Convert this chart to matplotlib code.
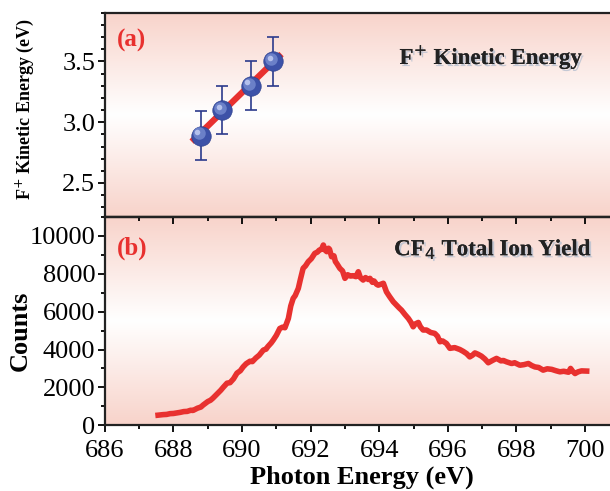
import numpy as np
import matplotlib.pyplot as plt
import matplotlib.patheffects as pe
import matplotlib.transforms as mtransforms
from matplotlib.colors import LinearSegmentedColormap
from matplotlib.ticker import MultipleLocator

plt.rcParams['font.family'] = ['Liberation Serif', 'DejaVu Serif']

# panel (a): F+ kinetic energy
ke_x = [688.79, 689.42, 690.25, 690.91]
ke_y = [2.89, 3.10, 3.30, 3.50]
ke_err = [0.2, 0.2, 0.2, 0.2]
fit_x = [688.53, 691.15]
fit_y = [2.84, 3.56]

# panel (b): CF4 total ion yield
ty_x = [687.55, 687.7, 687.8, 687.9, 688.0, 688.1, 688.2, 688.3, 688.4, 688.5,
        688.57, 688.7, 688.8, 688.86, 689.0, 689.08, 689.15, 689.3, 689.38, 689.45,
        689.56, 689.65, 689.75, 689.85, 689.95, 690.03, 690.12, 690.23, 690.3, 690.4,
        690.5, 690.62, 690.7, 690.75, 690.85, 690.91, 691.0, 691.1, 691.18, 691.25,
        691.35, 691.42, 691.49, 691.55, 691.64, 691.7, 691.78, 691.85, 691.93, 692.02,
        692.12, 692.2, 692.25, 692.32, 692.37, 692.42, 692.47, 692.52, 692.55, 692.61,
        692.68, 692.72, 692.76, 692.85, 692.93, 693.0, 693.08, 693.16, 693.24, 693.32,
        693.39, 693.45, 693.53, 693.6, 693.68, 693.73, 693.8, 693.85, 693.92, 693.97,
        694.05, 694.12, 694.21, 694.3, 694.41, 694.5, 694.58, 694.65, 694.75, 694.85,
        694.92, 694.99, 695.05, 695.14, 695.2, 695.28, 695.38, 695.5, 695.62, 695.7,
        695.77, 695.85, 695.96, 696.06, 696.2, 696.35, 696.45, 696.55, 696.64, 696.72,
        696.79, 696.88, 696.98, 697.08, 697.18, 697.3, 697.42, 697.55, 697.62, 697.71,
        697.86, 697.95, 698.1, 698.22, 698.35, 698.45, 698.54, 698.65, 698.78, 698.9,
        699.03, 699.15, 699.27, 699.38, 699.46, 699.52, 699.58, 699.64, 699.71, 699.8,
        699.9, 700.05]
ty_y = [530, 560, 570, 610, 620, 650, 680, 720, 730, 790,
        780, 900, 960, 1060, 1250, 1320, 1430, 1700, 1850, 2000,
        2220, 2250, 2450, 2750, 2880, 3080, 3250, 3380, 3360, 3550,
        3700, 3970, 4020, 4150, 4350, 4500, 4750, 5110, 5180, 5150,
        5640, 6300, 6700, 6850, 7230, 7700, 8290, 8420, 8640, 8800,
        9080, 9150, 9250, 9300, 9520, 9250, 9170, 9350, 9300, 8900,
        8950, 8650, 8550, 8290, 8150, 7760, 7950, 7880, 7900, 7850,
        8110, 7800, 7670, 7800, 7700, 7760, 7550, 7620, 7450, 7400,
        7450, 7500, 7050, 6800, 6520, 6350, 6200, 6080, 5850, 5640,
        5450, 5200, 5350, 5430, 5200, 5030, 5030, 4900, 4850, 4700,
        4410, 4450, 4320, 4060, 4100, 4000, 3900, 3780, 3610, 3700,
        3820, 3750, 3650, 3500, 3300, 3420, 3530, 3400, 3420, 3350,
        3260, 3300, 3170, 3200, 3260, 3150, 3080, 3050, 2910, 2980,
        2950, 2880, 2820, 2850, 2820, 2800, 3000, 2850, 2730, 2820,
        2870, 2860]

red = '#e8312f'
bg = LinearSegmentedColormap.from_list('bg', ['#f8d3ca', '#ffffff', '#f8d3ca'])
grad = np.linspace(0, 1, 256).reshape(-1, 1)

fig = plt.figure(figsize=(6.1, 4.91), dpi=100)
ax1 = fig.add_axes([0.172, 0.558, 0.828, 0.416])
ax2 = fig.add_axes([0.172, 0.134, 0.828, 0.424])

for ax in (ax1, ax2):
    ax.imshow(grad, cmap=bg, aspect='auto', extent=[0, 1, 0, 1],
              transform=ax.transAxes, zorder=0, interpolation='bicubic')
    for s in ax.spines.values():
        s.set_linewidth(1.6)
        s.set_color('#222222')
    ax.spines['right'].set_visible(False)
    ax.set_xlim(686, 700.73)
    ax.tick_params(labelsize=19, width=1.3, length=5, pad=2)
    ax.tick_params(which='minor', width=1.3, length=3)

# (a)
ax1.plot(fit_x, fit_y, color=red, lw=4.5, solid_capstyle='butt', zorder=2)
ax1.errorbar(ke_x, ke_y, yerr=ke_err, fmt='none', ecolor='#2b3a8c',
             elinewidth=1.2, capsize=4.5, capthick=1.2, zorder=3)
ax1.plot(ke_x, ke_y, 'o', ms=14, color='#3d52a8', mec='#2f4290', mew=0.5, zorder=4)
shift1 = mtransforms.ScaledTranslation(-1.5/72, 1.5/72, fig.dpi_scale_trans)
shift2 = mtransforms.ScaledTranslation(-2.5/72, 2.5/72, fig.dpi_scale_trans)
ax1.plot(ke_x, ke_y, 'o', ms=9, color='#6b80c8', mew=0, zorder=5,
         transform=ax1.transData + shift1)
ax1.plot(ke_x, ke_y, 'o', ms=4, color='#b4c0ec', mew=0, zorder=6,
         transform=ax1.transData + shift2)
ax1.set_ylim(2.22, 3.9)
ax1.yaxis.set_major_locator(MultipleLocator(0.5))
ax1.yaxis.set_minor_locator(MultipleLocator(0.1))
ax1.tick_params(axis='x', which='both', bottom=False, top=False, labelbottom=False)
ax1.tick_params(axis='y', which='both', direction='out')
ax1.set_ylabel('F$^{+}$ Kinetic Energy (eV)', fontsize=13, fontweight='bold')
ax1.yaxis.set_label_coords(-0.137, 0.53)
ax1.text(0.024, 0.863, '(a)', transform=ax1.transAxes, color=red, fontsize=18,
         fontweight='bold', va='center')
shadow = [pe.withSimplePatchShadow(offset=(1.5, -1.5), shadow_rgbFace='#b7c0d0', alpha=0.8),
          pe.Normal()]
ax1.text(0.947, 0.784, 'F$^{+}$ Kinetic Energy', transform=ax1.transAxes, color='#222222',
         fontsize=16.5, fontweight='bold', ha='right', va='center', path_effects=shadow)

# (b)
ax2.plot(ty_x, ty_y, color=red, lw=4, solid_joinstyle='round', zorder=2)
ax2.set_ylim(0, 11000)
ax2.yaxis.set_major_locator(MultipleLocator(2000))
ax2.yaxis.set_minor_locator(MultipleLocator(1000))
ax2.xaxis.set_major_locator(MultipleLocator(2))
ax2.xaxis.set_minor_locator(MultipleLocator(1))
ax2.tick_params(axis='y', which='both', direction='out')
ax2.tick_params(axis='x', which='both', direction='out', top=False)
ax2.tick_params(axis='x', which='major', pad=6)
sec = ax2.secondary_xaxis('top')
sec.xaxis.set_major_locator(MultipleLocator(2))
sec.xaxis.set_minor_locator(MultipleLocator(1))
sec.tick_params(axis='x', which='major', direction='in', labeltop=False, width=1.3, length=5)
sec.tick_params(axis='x', which='minor', direction='in', width=1.3, length=3)
sec.spines['top'].set_linewidth(1.6)
ax2.set_ylabel('Counts', fontsize=19, fontweight='bold')
ax2.yaxis.set_label_coords(-0.145, 0.454)
ax2.set_xlabel('Photon Energy (eV)', fontsize=19, fontweight='bold')
ax2.xaxis.set_label_coords(0.509, -0.195)
ax2.text(0.024, 0.85, '(b)', transform=ax2.transAxes, color=red, fontsize=18,
         fontweight='bold', va='center')
ax2.text(0.964, 0.845, 'CF$_4$ Total Ion Yield', transform=ax2.transAxes, color='#222222',
         fontsize=16.5, fontweight='bold', ha='right', va='center', path_effects=shadow)

fig.savefig('out.png', dpi=100)
